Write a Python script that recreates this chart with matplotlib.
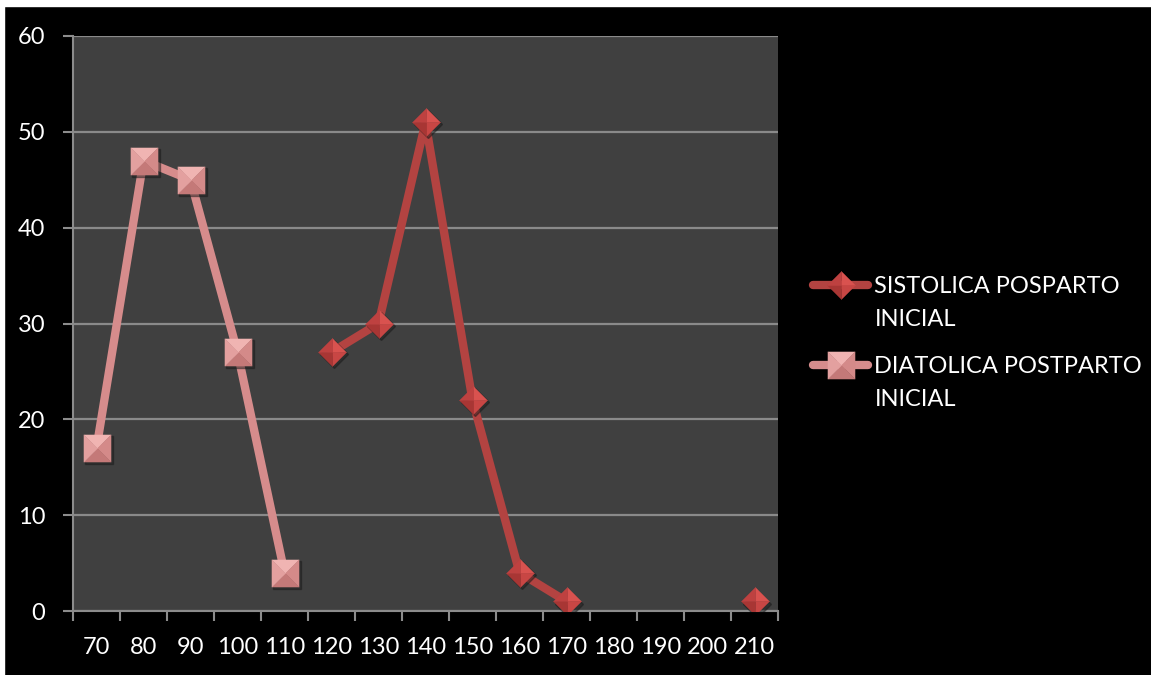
import numpy as np
import matplotlib
matplotlib.use("Agg")
import matplotlib.pyplot as plt
from matplotlib.path import Path
from matplotlib.patches import Rectangle
from matplotlib.transforms import offset_copy
from matplotlib.legend_handler import HandlerTuple

plt.rcParams['font.family'] = ['Lato', 'DejaVu Sans']

# presion arterial (mmHg) y numero de pacientes
categories = ['70', '80', '90', '100', '110', '120', '130', '140',
              '150', '160', '170', '180', '190', '200', '210']
sistolica = [np.nan, np.nan, np.nan, np.nan, np.nan, 27, 30, 51,
             22, 4, 1, np.nan, np.nan, np.nan, 1]
diastolica = [17, 47, 45, 27, 4, np.nan, np.nan, np.nan,
              np.nan, np.nan, np.nan, np.nan, np.nan, np.nan, np.nan]
y_ticks = [0, 10, 20, 30, 40, 50, 60]
labels = ['SISTOLICA POSPARTO', 'DIATOLICA POSTPARTO']
label_tail = 'INICIAL'

x = np.arange(len(categories))
FS = 17

fig = plt.figure(figsize=(11.51, 6.75), dpi=100, facecolor='black')
# thin white margin along the top and left edges
fig.patches.append(Rectangle((0, 1 - 6 / 675), 1, 6 / 675,
                             transform=fig.transFigure, color='white'))
fig.patches.append(Rectangle((0, 0), 4 / 1151, 1,
                             transform=fig.transFigure, color='white'))

ax = fig.add_axes([73 / 1151, 1 - 611 / 675, 705 / 1151, 575 / 675])
ax.set_facecolor('#404040')

# beveled markers: four triangular facets around the centre
def facets(kind):
    if kind == 'diamond':
        tips = [(0, 1), (1, 0), (0, -1), (-1, 0)]
    else:
        tips = [(-1, 1), (1, 1), (1, -1), (-1, -1)]
    out = []
    for i in range(4):
        a, b = tips[i], tips[(i + 1) % 4]
        out.append(Path([(0, 0), a, b, (0, 0)],
                        [Path.MOVETO, Path.LINETO, Path.LINETO, Path.CLOSEPOLY]))
    return out

shadow = offset_copy(ax.transData, fig=fig, x=1.5, y=-1.5, units='points')

def draw_series(vals, color, kind, shades, ms, label):
    line, = ax.plot(x, vals, color=color, lw=6, solid_joinstyle='round',
                    solid_capstyle='round', zorder=3, label=label)
    ax.plot(x, vals, ls='none', marker='D' if kind == 'diamond' else 's',
            ms=ms * (0.72 if kind == 'diamond' else 1.0), color='#1a1a1a',
            alpha=0.45, transform=shadow, zorder=4)
    parts = [line]
    for path, c in zip(facets(kind), shades):
        m, = ax.plot(x, vals, ls='none', marker=path, ms=ms, mfc=c,
                     mec=c, mew=0.3, zorder=5)
        parts.append(m)
    return tuple(parts)

h_sis = draw_series(sistolica, '#B34341', 'diamond',
                    ['#D9524F', '#C84644', '#A83634', '#BE4140'], 20, labels[0])
h_dia = draw_series(diastolica, '#D68C8C', 'square',
                    ['#F0B4B2', '#D48A89', '#C47978', '#E3A09F'], 19.5, labels[1])

ax.set_xlim(-0.5, len(categories) - 0.5)
ax.set_ylim(0, 60)
ax.set_yticks(y_ticks)
ax.set_xticks(x)
ax.set_xticklabels(categories)
ax.set_xticks(np.arange(-0.5, len(categories)), minor=True)
ax.tick_params(axis='x', which='major', length=0, pad=19, labelsize=FS,
               labelcolor='white')
ax.tick_params(axis='x', which='minor', length=7, width=1.5, color='#8c8c8c')
ax.tick_params(axis='y', length=7, width=1.5, color='#8c8c8c', pad=13,
               labelsize=FS, labelcolor='white')

ax.grid(axis='y', color='#8a8a8a', lw=1.6)
ax.set_axisbelow(True)
for side in ['top', 'right']:
    ax.spines[side].set_visible(False)
for side in ['left', 'bottom']:
    ax.spines[side].set_color('#8c8c8c')
    ax.spines[side].set_linewidth(1.5)

leg = fig.legend([h_sis, h_dia], labels, loc='upper left',
                 bbox_to_anchor=(813 / 1151, 1 - 276 / 675),
                 handler_map={tuple: HandlerTuple(ndivide=1, pad=0)},
                 frameon=False, fontsize=FS, labelcolor='white',
                 borderpad=0, borderaxespad=0,
                 handlelength=2.35, handletextpad=0.25, labelspacing=2.5)

# second line of each legend label, hung under the first
for t in leg.get_texts():
    fig.add_artist(plt.Annotation(label_tail, xy=(0, 0), xycoords=t,
                                  xytext=(0, -33), textcoords='offset pixels',
                                  ha='left', va='bottom', color='white',
                                  fontsize=FS, zorder=10))

fig.savefig('out.png', dpi=100, facecolor=fig.get_facecolor())
